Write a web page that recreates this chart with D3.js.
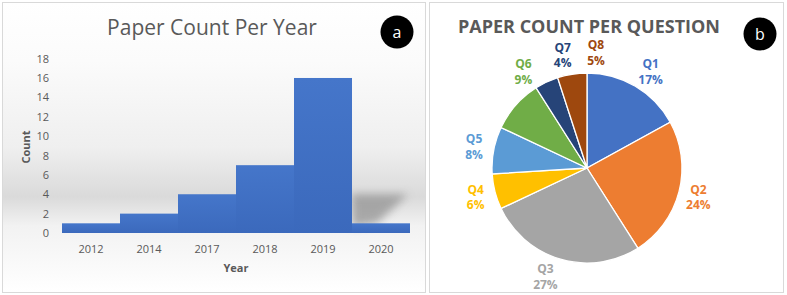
<!DOCTYPE html>
<html>
<head>
<meta charset="utf-8">
<script src="https://cdn.jsdelivr.net/npm/d3@7"></script>
<style>
  html, body { margin: 0; padding: 0; background: #ffffff; }
  svg { display: block; font-family: "Open Sans", sans-serif; }
</style>
</head>
<body>
<svg id="chart" width="787" height="295"></svg>
<script>
// ---------- data ----------
const years = ["2012", "2014", "2017", "2018", "2019", "2020"];
const counts = [1, 2, 4, 7, 16, 1];
const yTicks = [0, 2, 4, 6, 8, 10, 12, 14, 16, 18];

const questions = ["Q1", "Q2", "Q3", "Q4", "Q5", "Q6", "Q7", "Q8"];
const shares = [17, 24, 27, 6, 8, 9, 4, 5];
const sliceColors = ["#4472C4", "#ED7D31", "#A5A5A5", "#FFC000", "#5B9BD5", "#70AD47", "#264478", "#9E480E"];
// label angle nudges (degrees) to mimic the best-fit label placement
const labelNudge = [3, 0, 5, 0, 0, 15, 13, 13.5];

// ---------- setup ----------
const svg = d3.select("#chart");
const defs = svg.append("defs");

const bg = defs.append("linearGradient").attr("id", "bgGrad")
  .attr("x1", 0).attr("y1", 0).attr("x2", 0).attr("y2", 1);
[[0, "#ffffff"], [0.2, "#fbfbfb"], [0.5, "#efefef"], [0.67, "#dadada"], [0.77, "#f2f2f2"], [1, "#ffffff"]]
  .forEach(([o, c]) => bg.append("stop").attr("offset", o).attr("stop-color", c));

const barGrad = defs.append("linearGradient").attr("id", "barGrad")
  .attr("x1", 0).attr("y1", 0).attr("x2", 0).attr("y2", 1);
barGrad.append("stop").attr("offset", 0).attr("stop-color", "#4576CA");
barGrad.append("stop").attr("offset", 1).attr("stop-color", "#3B69BC");

defs.append("filter").attr("id", "blur").attr("x", "-50%").attr("y", "-50%")
  .attr("width", "200%").attr("height", "200%")
  .append("feGaussianBlur").attr("stdDeviation", 4);

// ---------- left panel ----------
svg.append("rect").attr("x", 2.5).attr("y", 2.5).attr("width", 423).attr("height", 290)
  .attr("fill", "url(#bgGrad)").attr("stroke", "#d9d9d9").attr("stroke-width", 1);

const x = d3.scaleBand().domain(years).range([62, 410]).padding(0);
const y = d3.scaleLinear().domain([0, 18]).range([233, 58.6]);

// shadow cast by the tallest bar
const sx = x("2019") + x.bandwidth();
svg.append("path")
  .attr("d", `M${sx},${y(0.6)} L${sx},${y(4)} L${x("2020") + x.bandwidth() - 2},${y(4)} L${sx + 25},${y(1)} Z`)
  .attr("fill", "#8c8c8c").attr("opacity", 0.7).attr("filter", "url(#blur)");

svg.append("g").selectAll("rect").data(years).join("rect")
  .attr("x", d => x(d))
  .attr("y", (d, i) => y(counts[i]))
  .attr("width", x.bandwidth())
  .attr("height", (d, i) => y(0) - y(counts[i]))
  .attr("fill", "url(#barGrad)");

const yAxis = svg.append("g").attr("transform", "translate(62,0)")
  .call(d3.axisLeft(y).tickValues(yTicks).tickSize(0).tickPadding(13));
yAxis.select(".domain").remove();
yAxis.selectAll("text").attr("fill", "#595959").style("font-size", "11px")
  .style("font-family", "'Open Sans', sans-serif");

const xAxis = svg.append("g").attr("transform", "translate(0,233)")
  .call(d3.axisBottom(x).tickSize(0).tickPadding(12));
xAxis.select(".domain").remove();
xAxis.selectAll("text").attr("fill", "#595959").style("font-size", "11px")
  .style("font-family", "'Open Sans', sans-serif");

svg.append("text").attr("x", 212).attr("y", 35).attr("text-anchor", "middle")
  .attr("fill", "#595959").style("font-size", "21px").text("Paper Count Per Year");

svg.append("text").attr("transform", "translate(30,147) rotate(-90)")
  .attr("text-anchor", "middle").attr("fill", "#595959")
  .style("font-size", "11px").style("font-weight", "bold").text("Count");

svg.append("text").attr("x", 236).attr("y", 272).attr("text-anchor", "middle")
  .attr("fill", "#595959").style("font-size", "11px").style("font-weight", "bold").text("Year");

svg.append("circle").attr("cx", 397).attr("cy", 32).attr("r", 16.5).attr("fill", "#000");
svg.append("text").attr("x", 397).attr("y", 38).attr("text-anchor", "middle")
  .attr("fill", "#fff").style("font-size", "16px").text("a");

// ---------- right panel ----------
svg.append("rect").attr("x", 429.5).attr("y", 2.5).attr("width", 354).attr("height", 290)
  .attr("fill", "#ffffff").attr("stroke", "#d9d9d9").attr("stroke-width", 1);

svg.append("text").attr("x", 589).attr("y", 32.5).attr("text-anchor", "middle")
  .attr("fill", "#595959").style("font-size", "18px").style("font-weight", "bold")
  .text("PAPER COUNT PER QUESTION");

svg.append("circle").attr("cx", 760).attr("cy", 34).attr("r", 16.5).attr("fill", "#000");
svg.append("text").attr("x", 760).attr("y", 40).attr("text-anchor", "middle")
  .attr("fill", "#fff").style("font-size", "16px").text("b");

const cx = 587, cy = 168, R = 95;
const pie = d3.pie().sort(null).value(d => d)(shares);
const arc = d3.arc().innerRadius(0).outerRadius(R);
const pg = svg.append("g").attr("transform", `translate(${cx},${cy})`);
pg.selectAll("path").data(pie).join("path")
  .attr("d", arc)
  .attr("fill", (d, i) => sliceColors[i])
  .attr("stroke", "#ffffff").attr("stroke-width", 1.3);

const labelColors = sliceColors;
const lg = pg.selectAll("g.lbl").data(pie).join("g").attr("class", "lbl")
  .attr("transform", (d, i) => {
    const a = (d.startAngle + d.endAngle) / 2 + labelNudge[i] * Math.PI / 180;
    return `translate(${115 * Math.sin(a)},${-116 * Math.cos(a)})`;
  });
lg.append("text").attr("text-anchor", "middle").attr("y", -3)
  .attr("fill", (d, i) => labelColors[i])
  .style("font-size", "12px").style("font-weight", "bold")
  .text((d, i) => questions[i]);
lg.append("text").attr("text-anchor", "middle").attr("y", 12.5)
  .attr("fill", (d, i) => labelColors[i])
  .style("font-size", "12px").style("font-weight", "bold")
  .text((d, i) => shares[i] + "%");
</script>
</body>
</html>
